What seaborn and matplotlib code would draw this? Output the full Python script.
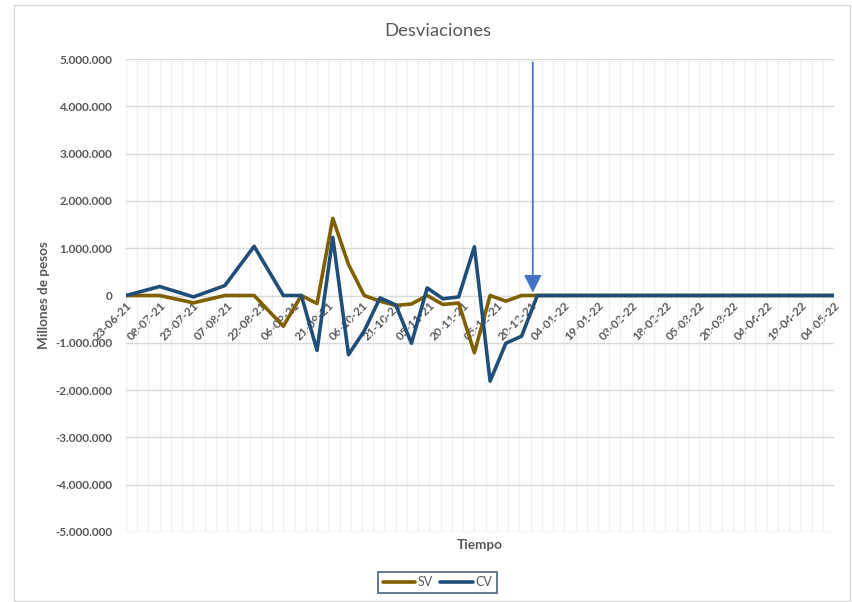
import matplotlib
matplotlib.use('Agg')
import matplotlib.pyplot as plt
from matplotlib.ticker import FuncFormatter, MultipleLocator
from matplotlib.patches import Rectangle
from matplotlib.lines import Line2D
import pandas as pd
import seaborn as sns

# data (pesos)
fechas = ['2021-06-23', '2021-07-08', '2021-07-23', '2021-08-06', '2021-08-19',
          '2021-09-01', '2021-09-09', '2021-09-16', '2021-09-23', '2021-09-30',
          '2021-10-07', '2021-10-14', '2021-10-21', '2021-10-28', '2021-11-04',
          '2021-11-11', '2021-11-18', '2021-11-25', '2021-12-02', '2021-12-09',
          '2021-12-16', '2021-12-23', '2022-05-04']
sv = [0, 0, -155000, 0, 0,
      -650000, 0, -170000, 1630000, 655000,
      0, -120000, -210000, -180000, 0,
      -190000, -160000, -1210000, 0, -120000,
      0, 0, 0]
cv = [0, 190000, -30000, 210000, 1040000,
      0, 0, -1160000, 1230000, -1250000,
      -750000, -50000, -200000, -1010000, 160000,
      -70000, -30000, 1030000, -1810000, -1010000,
      -860000, 0, 0]
series = ['SV', 'CV']
colores = {'SV': '#7F6000', 'CV': '#1F4E79'}
inicio, fin = '2021-06-23', '2022-05-04'
fecha_flecha = '2021-12-21'

df = pd.DataFrame({
    'fecha': pd.to_datetime(fechas * 2),
    'valor': sv + cv,
    'serie': ['SV'] * len(sv) + ['CV'] * len(cv),
})

sns.set_style('white')
plt.rcParams['font.family'] = ['Lato', 'DejaVu Sans']
gris = '#595959'

fig = plt.figure(figsize=(8.52, 6.02), dpi=100)
ax = fig.add_axes([126 / 852, 1 - 532 / 602, 708 / 852, 473 / 602])

sns.lineplot(data=df, x='fecha', y='valor', hue='serie', hue_order=series,
             palette=colores, linewidth=2.6, ax=ax, legend=False)

ax.set_xlim(pd.Timestamp(inicio), pd.Timestamp(fin))
ax.set_ylim(-5e6, 5e6)
ax.yaxis.set_major_locator(MultipleLocator(1e6))
ax.yaxis.set_major_formatter(FuncFormatter(lambda v, p: format(int(round(v)), ',').replace(',', '.')))

ticks = pd.date_range(inicio, fin, freq='15D')
ax.set_xticks(ticks)
ax.set_xticklabels([t.strftime('%d-%m-%y') for t in ticks])
ax.set_xticks(pd.date_range(inicio, fin, freq='5D'), minor=True)

ax.grid(axis='y', color='#D9D9D9', lw=1)
ax.grid(axis='x', which='both', color='#F0F0F0', lw=1)
ax.set_axisbelow(True)
for s in ax.spines.values():
    s.set_color('none')
ax.spines['bottom'].set_position(('data', 0))

ax.tick_params(axis='x', which='both', length=0, pad=3)
ax.tick_params(axis='y', length=0, pad=10)
for lab in ax.get_xticklabels():
    lab.set_rotation(45)
    lab.set_ha('right')
    lab.set_va('top')
    lab.set_rotation_mode('anchor')
for lab in ax.get_xticklabels() + ax.get_yticklabels():
    lab.set_fontsize(8.5)
    lab.set_fontweight('bold')
    lab.set_color(gris)

ax.set_xlabel('')
ax.set_ylabel('Millones de pesos', fontsize=9.7, fontweight='bold', color=gris)
ax.yaxis.set_label_coords(-0.108, 0.5)

fig.text(480 / 852, 1 - 545 / 602, 'Tiempo', ha='center', va='center',
         fontsize=9.8, fontweight='bold', color=gris)
fig.text(438 / 852, 1 - 31 / 602, 'Desviaciones', ha='center', va='center',
         fontsize=13.3, color=gris)

ax.annotate('', xy=(pd.Timestamp(fecha_flecha), 0.06e6),
            xytext=(pd.Timestamp(fecha_flecha), 4.93e6),
            arrowprops=dict(arrowstyle='-|>', color='#4472C4', lw=1.2,
                            mutation_scale=27, shrinkA=0, shrinkB=0))

handles = [Line2D([], [], color=colores[s], lw=2.6) for s in series]
leg = fig.legend(handles, series, loc='center', ncol=2,
                 bbox_to_anchor=(437.5 / 852, 1 - 582.5 / 602),
                 frameon=True, fancybox=False, fontsize=9,
                 handlelength=2.6, handletextpad=0.2, columnspacing=0.6,
                 borderpad=0.35)
leg.get_frame().set_edgecolor('#2F4A6B')
leg.get_frame().set_linewidth(1.3)
for t in leg.get_texts():
    t.set_color(gris)

fig.add_artist(Rectangle((14 / 852, 1 / 602), 836 / 852, 596 / 602,
                         transform=fig.transFigure, fill=False,
                         edgecolor='#D9D9D9', lw=1))

fig.savefig('out.png', dpi=100)
